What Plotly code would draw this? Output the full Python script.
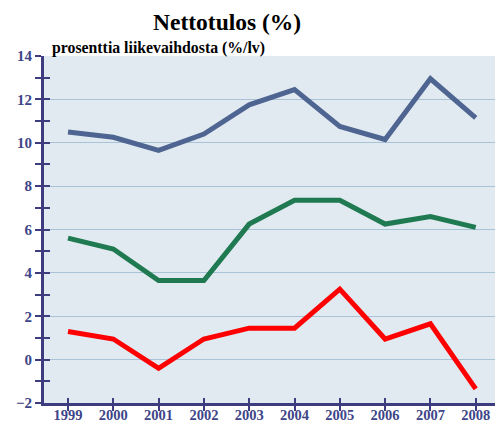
import plotly.graph_objects as go

years = [1999, 2000, 2001, 2002, 2003, 2004, 2005, 2006, 2007, 2008]
series_blue = [10.5, 10.25, 9.65, 10.4, 11.75, 12.45, 10.75, 10.15, 12.95, 11.15]
series_green = [5.6, 5.1, 3.65, 3.65, 6.25, 7.35, 7.35, 6.25, 6.6, 6.1]
series_red = [1.3, 0.95, -0.4, 0.95, 1.45, 1.45, 3.25, 0.95, 1.65, -1.35]
y_ticks = list(range(-2, 15, 2))
y_ticktext = ["\u22122" if v == -2 else str(v) for v in y_ticks]

navy = "#3C3C7E"
label_col = "#3E4588"
serif = "Liberation Serif"

fig = go.Figure()
for vals, col in [(series_blue, "#4F6591"), (series_green, "#1F7A52"), (series_red, "#FF0000")]:
    fig.add_trace(go.Scatter(x=years, y=vals, mode="lines",
                             line=dict(color=col, width=5), showlegend=False,
                             hoverinfo="skip"))
# invisible trace for overlay axes (inside tick halves)
fig.add_trace(go.Scatter(x=years, y=series_blue, xaxis="x2", yaxis="y2",
                         mode="lines", opacity=0, showlegend=False, hoverinfo="skip"))

xr = [1998.47, 2008.47]
yr = [-2, 14]
fig.update_layout(
    width=495, height=413,
    margin=dict(l=36, r=6, t=48, b=18),
    paper_bgcolor="white", plot_bgcolor="#E1E9F1",
    xaxis=dict(range=xr, tickvals=years, ticks="outside", ticklen=5, tickwidth=2,
               tickcolor=navy, showline=True, linecolor=navy, linewidth=3,
               showgrid=False, zeroline=False, automargin=False,
               ticklabelstandoff=-8,
               tickfont=dict(family=serif, size=14.5, color=label_col, weight="bold")),
    yaxis=dict(range=yr, tickvals=y_ticks, ticktext=y_ticktext, ticks="outside",
               ticklen=6, tickwidth=2, tickcolor=navy, showline=True, linecolor=navy,
               linewidth=3, showgrid=True, gridcolor="#A9C3D6", gridwidth=1,
               zeroline=False, automargin=False,
               minor=dict(dtick=1, ticks="outside", ticklen=6, tickwidth=2,
                          tickcolor=navy, showgrid=False),
               tickfont=dict(family=serif, size=15, color=label_col, weight="bold")),
    xaxis2=dict(range=xr, overlaying="x", anchor="y2", tickvals=years, ticks="inside",
                ticklen=5, tickwidth=2, tickcolor=navy, showticklabels=False,
                showgrid=False, zeroline=False, showline=False, automargin=False),
    yaxis2=dict(range=yr, overlaying="y", anchor="x2", dtick=1, ticks="inside",
                ticklen=6, tickwidth=2, tickcolor=navy, showticklabels=False,
                showgrid=False, zeroline=False, showline=False, automargin=False),
    annotations=[
        dict(text="<b>Nettotulos (%)</b>", xref="paper", yref="paper", x=0.404, y=1.0,
             yshift=19, xanchor="center", yanchor="bottom", showarrow=False,
             font=dict(family=serif, size=23.5, color="black")),
        dict(text="<b>prosenttia liikevaihdosta (%/lv)</b>", xref="paper", yref="paper",
             x=0.014, y=1.0, yshift=-3, xanchor="left", yanchor="bottom", showarrow=False,
             font=dict(family=serif, size=15.8, color="black")),
    ],
)
fig.write_html("out.html")
